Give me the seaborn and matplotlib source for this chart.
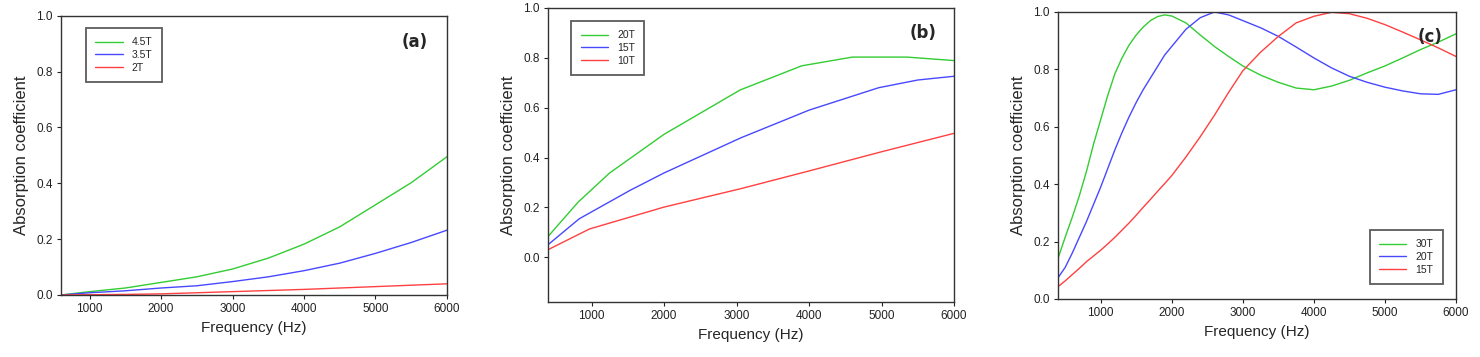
import pandas as pd
import matplotlib
matplotlib.use("Agg")
import matplotlib.pyplot as plt
import seaborn as sns

# panel (a)
freq_a = [600, 1000, 1500, 2000, 2500, 3000, 3500, 4000, 4500, 5000, 5500, 6000]
a_45t = [0.0, 0.012, 0.025, 0.045, 0.065, 0.093, 0.132, 0.182, 0.244, 0.323, 0.402, 0.495]
a_35t = [0.0, 0.008, 0.015, 0.025, 0.033, 0.048, 0.065, 0.087, 0.114, 0.149, 0.188, 0.232]
a_2t = [0.0, 0.001, 0.002, 0.004, 0.008, 0.012, 0.016, 0.020, 0.025, 0.030, 0.035, 0.040]

# panel (b)
freq_b_20t = [400, 815, 1250, 2000, 3050, 3900, 4600, 5350, 6000]
b_20t = [0.083, 0.221, 0.338, 0.493, 0.671, 0.768, 0.803, 0.803, 0.789]
freq_b_15t = [400, 830, 1530, 2000, 3060, 4000, 4960, 5500, 6000]
b_15t = [0.050, 0.154, 0.268, 0.338, 0.479, 0.590, 0.680, 0.711, 0.726]
freq_b_10t = [400, 970, 2000, 3060, 4000, 5000, 6000]
b_10t = [0.030, 0.113, 0.201, 0.275, 0.346, 0.423, 0.497]

# panel (c)
freq_c = [400, 500, 600, 700, 800, 900, 1000, 1100, 1200, 1300, 1400, 1500, 1600, 1700, 1800, 1900, 2000,
          2200, 2400, 2600, 2800, 3000,
          3250, 3500, 3750, 4000, 4250, 4500, 4750, 5000, 5250, 5500, 5750, 6000]
c_30t = [0.142, 0.215, 0.285, 0.360, 0.445, 0.540, 0.625, 0.710, 0.785, 0.840, 0.885, 0.920, 0.948, 0.970, 0.984, 0.990, 0.986,
         0.962, 0.920, 0.880, 0.845, 0.812,
         0.780, 0.755, 0.735, 0.729, 0.742, 0.762, 0.788, 0.812, 0.840, 0.869, 0.895, 0.924]
c_20t = [0.074, 0.110, 0.160, 0.215, 0.270, 0.330, 0.390, 0.455, 0.520, 0.580, 0.635, 0.685, 0.730, 0.770, 0.810, 0.850, 0.880,
         0.940, 0.980, 1.000, 0.990, 0.970,
         0.945, 0.915, 0.878, 0.840, 0.805, 0.776, 0.755, 0.738, 0.725, 0.715, 0.713, 0.729]
c_15t = [0.043, 0.063, 0.085, 0.107, 0.130, 0.150, 0.170, 0.192, 0.215, 0.240, 0.265, 0.292, 0.320, 0.347, 0.375, 0.402, 0.430,
         0.495, 0.565, 0.640, 0.720, 0.795,
         0.860, 0.915, 0.962, 0.985, 0.999, 0.994, 0.978, 0.956, 0.930, 0.903, 0.875, 0.845]

GREEN = "#33cc33"
BLUE = "#4848ff"
RED = "#ff4040"


def make_frame(series):
    """series: list of (label, freqs, values)"""
    parts = []
    for label, f, v in series:
        parts.append(pd.DataFrame({"Frequency": f, "Absorption": v, "Sample": label}))
    return pd.concat(parts, ignore_index=True)


def draw_panel(ax, df, colors, xlim, ylim, tag, tag_pos, leg_loc, leg_anchor):
    sns.lineplot(data=df, x="Frequency", y="Absorption", hue="Sample",
                 palette=colors, linewidth=1.0, ax=ax, sort=False, estimator=None)
    ax.set_xlim(*xlim)
    ax.set_ylim(*ylim)
    ax.set_xticks([1000, 2000, 3000, 4000, 5000, 6000])
    ax.set_yticks([0.0, 0.2, 0.4, 0.6, 0.8, 1.0])
    ax.set_yticklabels(["0.0", "0.2", "0.4", "0.6", "0.8", "1.0"])
    ax.tick_params(direction="out", length=3, width=0.8, labelsize=8.5, pad=3,
                   colors="#222222")
    ax.set_xlabel("Frequency (Hz)", fontsize=11, labelpad=4)
    ax.set_ylabel("Absorption coefficient", fontsize=12, labelpad=5)
    for sp in ax.spines.values():
        sp.set_color("#333333")
        sp.set_linewidth(1.0)
    ax.text(tag_pos[0], tag_pos[1], tag, transform=ax.transAxes, fontsize=12,
            fontweight="bold", ha="center", va="center", family="DejaVu Sans")
    leg = ax.legend(loc=leg_loc, bbox_to_anchor=leg_anchor, fontsize=7.5,
                    frameon=True, fancybox=False, handlelength=2.6,
                    handletextpad=0.9, labelspacing=0.25, borderpad=0.9,
                    borderaxespad=0.0, title=None)
    leg.get_frame().set_edgecolor("#333333")
    leg.get_frame().set_linewidth(1.3)
    leg.get_frame().set_facecolor("white")


sns.set_style("ticks")
plt.rcParams["font.family"] = ["Liberation Sans", "DejaVu Sans"]

fig = plt.figure(figsize=(14.8, 3.57), dpi=100)
ax_a = fig.add_axes([0.0412, 0.1737, 0.2608, 0.7823])
ax_b = fig.add_axes([0.3703, 0.1540, 0.2743, 0.8236])
ax_c = fig.add_axes([0.7149, 0.1625, 0.2689, 0.8039])

df_a = make_frame([("4.5T", freq_a, a_45t), ("3.5T", freq_a, a_35t), ("2T", freq_a, a_2t)])
df_b = make_frame([("20T", freq_b_20t, b_20t), ("15T", freq_b_15t, b_15t), ("10T", freq_b_10t, b_10t)])
df_c = make_frame([("30T", freq_c, c_30t), ("20T", freq_c, c_20t), ("15T", freq_c, c_15t)])

draw_panel(ax_a, df_a, {"4.5T": GREEN, "3.5T": BLUE, "2T": RED},
           (600, 6000), (0, 1.0), "(a)", (0.917, 0.906), "upper left", (0.065, 0.956))
draw_panel(ax_b, df_b, {"20T": GREEN, "15T": BLUE, "10T": RED},
           (400, 6000), (-0.18, 1.0), "(b)", (0.924, 0.915), "upper left", (0.057, 0.956))
draw_panel(ax_c, df_c, {"30T": GREEN, "20T": BLUE, "15T": RED},
           (400, 6000), (0, 1.0), "(c)", (0.935, 0.913), "lower right", (0.967, 0.052))

fig.savefig("out.png", dpi=100)
